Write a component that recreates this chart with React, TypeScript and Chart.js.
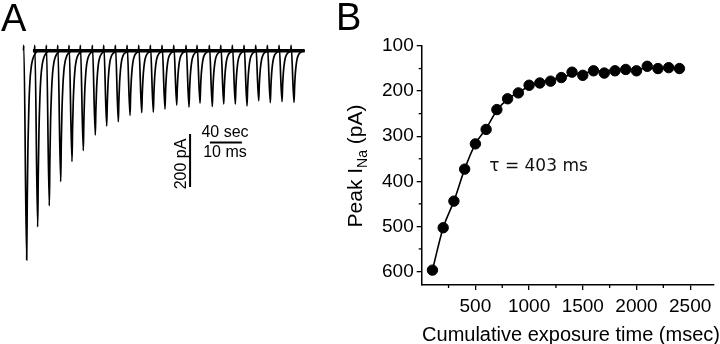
import React, { useEffect, useRef } from "react";
import { Chart, registerables } from "chart.js";
Chart.register(...registerables);

// ---------- Panel B data ----------
const exposureTimes = [100, 200, 300, 400, 500, 600, 700, 800, 900, 1000, 1100, 1200, 1300, 1400, 1500, 1600, 1700, 1800, 1900, 2000, 2100, 2200, 2300, 2400];
const peakCurrents = [597, 503, 444, 373, 317, 285, 241, 217, 204, 187, 182, 178, 170, 158, 165, 155, 160, 155, 152, 155, 145, 150, 148, 150];
const fitCurrents = [597, 503, 444, 373, 317, 283, 243, 218, 203, 190, 181, 175, 169, 164, 160, 157, 155, 153, 152, 151, 150, 149, 149, 148];
const xMajorTicks = [500, 1000, 1500, 2000, 2500];
const xMinorTicks = [250, 750, 1250, 1750, 2250];
const yMajorTicks = [100, 200, 300, 400, 500, 600];
const yMinorTicks = [150, 250, 350, 450, 550];
const tauLabel = "τ = 403 ms";
const tauPosition = [629, 368];
const xTitle = "Cumulative exposure time (msec)";

// ---------- Panel A data (display time in ms, current in pA) ----------
const tracePeakTimes = [8.34, 11.78, 15.41, 18.97, 22.5, 26.03, 29.78, 33.34, 36.97, 40.63, 44.28, 47.91, 51.56, 55.22, 59.06, 62.5, 66.34, 69.91, 73.53, 77.19, 80.84, 84.47, 88.13, 91.88];
const tracePeakAmps = [789, 664, 585, 494, 418, 377, 318, 284, 268, 244, 234, 232, 220, 205, 213, 198, 211, 201, 201, 208, 189, 196, 192, 195];
const waveTime = [-1.0, -0.9, 0, 0.18, 0.4, 0.68, 1.0, 1.4, 1.9, 2.6, 3.4];
const waveFraction = [0, 0, -1, -0.7, -0.45, -0.27, -0.15, -0.08, -0.04, -0.015, 0];
const waveArtifact = [0, 1, 0, 0, 0, 0, 0, 0, 0, 0, 0];
const artifactAmp = 20;
const baselineTimes = [10.3, 95.2];
const currentBarTimes = [59.4, 59.4];
const currentBarValues = [-314, -514];
const timeBarTimes = [65.6, 75.6];
const timeBarValues = [-346, -346];

const FONT = '"Liberation Sans", Arial, sans-serif';

const panelAPlugin = {
  id: "panelA",
  afterDraw(chart: any) {
    const { ctx, scales } = chart;
    const x = scales.x, y = scales.y;
    ctx.save();
    ctx.fillStyle = "#000";
    ctx.font = `38px ${FONT}`;
    ctx.textAlign = "left";
    ctx.textBaseline = "alphabetic";
    ctx.fillText("A", 1, 31);
    ctx.font = `16px ${FONT}`;
    ctx.textAlign = "center";
    ctx.fillText("40 sec", x.getPixelForValue(70.3), y.getPixelForValue(-326));
    ctx.fillText("10 ms", x.getPixelForValue(70.3), y.getPixelForValue(-400));
    ctx.translate(x.getPixelForValue(58.0), y.getPixelForValue(-427));
    ctx.rotate(-Math.PI / 2);
    ctx.fillText("200 pA", 0, 0);
    ctx.restore();
  },
};

const panelBPlugin = {
  id: "panelB",
  afterDraw(chart: any) {
    const { ctx, scales, chartArea } = chart;
    const x = scales.x, y = scales.y;
    ctx.save();
    ctx.strokeStyle = "#000";
    ctx.lineWidth = 1.3;
    yMinorTicks.forEach((v) => {
      const py = y.getPixelForValue(v);
      ctx.beginPath();
      ctx.moveTo(chartArea.left, py);
      ctx.lineTo(chartArea.left - 3, py);
      ctx.stroke();
    });
    xMinorTicks.forEach((v) => {
      const px = x.getPixelForValue(v);
      ctx.beginPath();
      ctx.moveTo(px, chartArea.bottom);
      ctx.lineTo(px, chartArea.bottom + 3);
      ctx.stroke();
    });
    ctx.fillStyle = "#111";
    ctx.font = `17px "DejaVu Sans", sans-serif`;
    ctx.textAlign = "left";
    ctx.textBaseline = "middle";
    ctx.fillText(tauLabel, x.getPixelForValue(tauPosition[0]), y.getPixelForValue(tauPosition[1]));

    ctx.fillStyle = "#000";
    ctx.textBaseline = "alphabetic";
    ctx.font = `20px ${FONT}`;
    ctx.textAlign = "center";
    ctx.fillText(xTitle, 241, 341);

    // y title with subscript
    ctx.save();
    ctx.translate(32, 166);
    ctx.rotate(-Math.PI / 2);
    const big = `21px ${FONT}`;
    const small = `14px ${FONT}`;
    const p1 = "Peak I", p2 = "Na", p3 = " (pA)";
    ctx.font = big;
    const w1 = ctx.measureText(p1).width;
    const w3 = ctx.measureText(p3).width;
    ctx.font = small;
    const w2 = ctx.measureText(p2).width;
    let sx = -(w1 + w2 + w3) / 2;
    ctx.textAlign = "left";
    ctx.font = big;
    ctx.fillText(p1, sx, 0);
    sx += w1;
    ctx.font = small;
    ctx.fillText(p2, sx, 5);
    sx += w2;
    ctx.font = big;
    ctx.fillText(p3, sx, 0);
    ctx.restore();

    ctx.font = `38px ${FONT}`;
    ctx.textAlign = "left";
    ctx.fillText("B", 6, 30);
    ctx.restore();
  },
};

export default function App() {
  const refA = useRef<HTMLCanvasElement>(null);
  const refB = useRef<HTMLCanvasElement>(null);

  useEffect(() => {
    const traceSets = tracePeakTimes.map((t0, i) => ({
      data: waveTime.map((dt, j) => ({
        x: t0 + dt,
        y: waveFraction[j] * tracePeakAmps[i] + waveArtifact[j] * artifactAmp,
      })),
      borderColor: "#000",
      borderWidth: 1.7,
      pointRadius: 0,
      cubicInterpolationMode: "monotone" as const,
    }));
    const chartA = new Chart(refA.current!, {
      type: "line",
      data: {
        datasets: [
          ...traceSets,
          {
            data: baselineTimes.map((t) => ({ x: t, y: 0 })),
            borderColor: "#000",
            borderWidth: 3.5,
            pointRadius: 0,
          },
          {
            data: currentBarTimes.map((t, i) => ({ x: t, y: currentBarValues[i] })),
            borderColor: "#000",
            borderWidth: 2,
            pointRadius: 0,
          },
          {
            data: timeBarTimes.map((t, i) => ({ x: t, y: timeBarValues[i] })),
            borderColor: "#000",
            borderWidth: 2,
            pointRadius: 0,
          },
        ] as any,
      },
      options: {
        animation: false,
        responsive: false,
        layout: { padding: 0 },
        plugins: { legend: { display: false }, tooltip: { enabled: false } },
        scales: {
          x: { type: "linear", min: 0, max: 103.125, display: false },
          y: { type: "linear", min: -1105.7, max: 191, display: false },
        },
      },
      plugins: [panelAPlugin],
    });

    const chartB = new Chart(refB.current!, {
      type: "line",
      data: {
        datasets: [
          {
            data: exposureTimes.map((t, i) => ({ x: t, y: peakCurrents[i] })),
            showLine: false,
            pointRadius: 5.2,
            pointBackgroundColor: "#000",
            pointBorderColor: "#000",
            pointBorderWidth: 1,
            order: 0,
          },
          {
            data: exposureTimes.map((t, i) => ({ x: t, y: fitCurrents[i] })),
            borderColor: "#000",
            borderWidth: 1.6,
            pointRadius: 0,
            cubicInterpolationMode: "monotone",
            order: 1,
          },
        ] as any,
      },
      options: {
        animation: false,
        responsive: false,
        layout: { padding: { top: 46, right: 3, bottom: 0, left: 0 } },
        plugins: { legend: { display: false }, tooltip: { enabled: false } },
        scales: {
          x: {
            type: "linear",
            min: 0,
            max: 2720,
            afterFit: (s: any) => {
              s.height = 59;
            },
            afterBuildTicks: (s: any) => {
              s.ticks = xMajorTicks.map((v) => ({ value: v }));
            },
            border: { display: true, color: "#000", width: 1.5 },
            grid: { drawOnChartArea: false, drawTicks: true, tickLength: 5, color: "#000", lineWidth: 1.3 },
            ticks: {
              color: "#000",
              font: { family: FONT, size: 19 },
              padding: 5,
              maxRotation: 0,
              autoSkip: false,
              callback: (v: any) => String(v),
            },
          },
          y: {
            type: "linear",
            reverse: true,
            min: 100,
            max: 630,
            afterFit: (s: any) => {
              s.width = 91.7;
            },
            afterBuildTicks: (s: any) => {
              s.ticks = yMajorTicks.map((v) => ({ value: v }));
            },
            border: { display: true, color: "#000", width: 1.5 },
            grid: { drawOnChartArea: false, drawTicks: true, tickLength: 5, color: "#000", lineWidth: 1.3 },
            ticks: {
              color: "#000",
              font: { family: FONT, size: 19 },
              padding: 3,
              autoSkip: false,
              callback: (v: any) => String(v),
            },
          },
        },
      },
      plugins: [panelBPlugin],
    });

    return () => {
      chartA.destroy();
      chartB.destroy();
    };
  }, []);

  return (
    <div style={{ position: "fixed", left: 0, top: 0, width: 720, height: 344, background: "#fff" }}>
      <canvas ref={refA} width={330} height={344} style={{ position: "absolute", left: 0, top: 0, width: 330, height: 344 }} />
      <canvas ref={refB} width={390} height={344} style={{ position: "absolute", left: 330, top: 0, width: 390, height: 344 }} />
    </div>
  );
}
